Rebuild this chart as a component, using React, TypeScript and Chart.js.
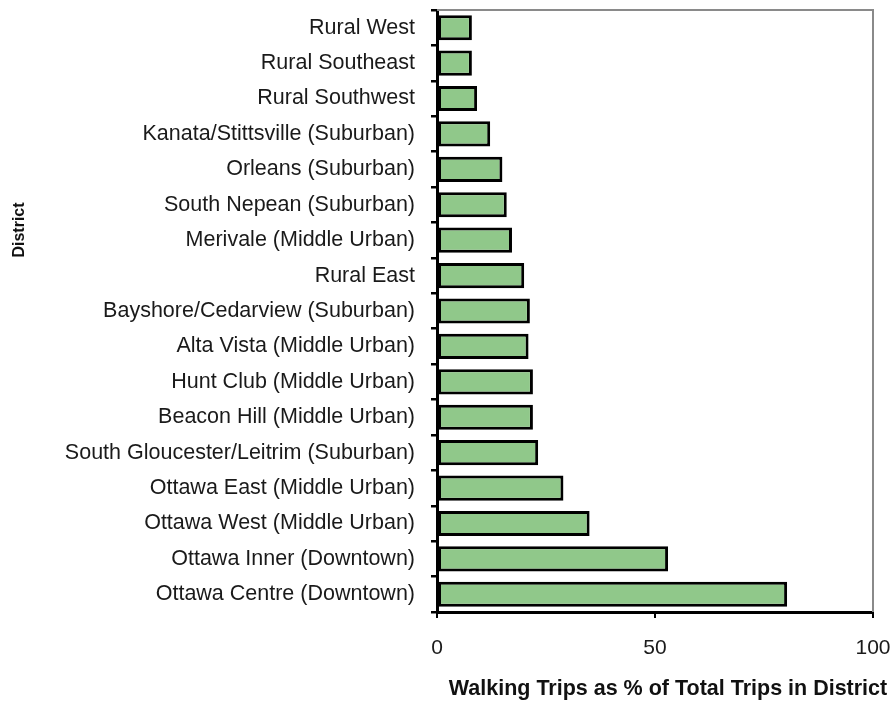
import React, { useEffect, useRef } from "react";
import { Chart, registerables } from "chart.js";

Chart.register(...registerables);

const districts = [
  "Rural West",
  "Rural Southeast",
  "Rural Southwest",
  "Kanata/Stittsville (Suburban)",
  "Orleans (Suburban)",
  "South Nepean (Suburban)",
  "Merivale (Middle Urban)",
  "Rural East",
  "Bayshore/Cedarview (Suburban)",
  "Alta Vista (Middle Urban)",
  "Hunt Club (Middle Urban)",
  "Beacon Hill (Middle Urban)",
  "South Gloucester/Leitrim (Suburban)",
  "Ottawa East (Middle Urban)",
  "Ottawa West (Middle Urban)",
  "Ottawa Inner (Downtown)",
  "Ottawa Centre (Downtown)",
];

const walkingShare = [8, 8, 9.2, 12.2, 15, 16, 17.2, 20, 21.3, 21, 22, 22, 23.2, 29, 35, 53, 80.3];

const xTitle = "Walking Trips as % of Total Trips in District";
const yTitle = "District";

const frameAndTitles = {
  id: "frameAndTitles",
  afterDraw(chart: any) {
    const { ctx, chartArea } = chart;
    ctx.save();
    ctx.strokeStyle = "#8a8a8a";
    ctx.lineWidth = 2;
    ctx.beginPath();
    ctx.moveTo(chartArea.left, chartArea.top);
    ctx.lineTo(chartArea.right, chartArea.top);
    ctx.lineTo(chartArea.right, chartArea.bottom);
    ctx.stroke();

    ctx.fillStyle = "#111";
    ctx.textAlign = "center";
    ctx.textBaseline = "middle";
    ctx.font = "bold 21.5px 'Liberation Sans', Arial";
    ctx.fillText(xTitle, 668, 689);

    ctx.translate(20, 230);
    ctx.rotate(-Math.PI / 2);
    ctx.font = "bold 16px 'Liberation Sans', Arial";
    ctx.fillText(yTitle, 0, 0);
    ctx.restore();
  },
};

export default function App() {
  const ref = useRef<HTMLCanvasElement>(null);
  useEffect(() => {
    if (!ref.current) return;
    const chart = new Chart(ref.current, {
      type: "bar",
      data: {
        labels: districts,
        datasets: [
          {
            data: walkingShare,
            backgroundColor: "rgb(144,200,138)",
            borderColor: "#000",
            borderWidth: 3,
            borderSkipped: false,
            barPercentage: 0.71,
            categoryPercentage: 1,
          },
        ],
      },
      options: {
        indexAxis: "y",
        animation: false,
        responsive: false,
        maintainAspectRatio: false,
        layout: { padding: { top: 10, right: 19, left: 0, bottom: 0 } },
        plugins: {
          legend: { display: false },
          tooltip: { enabled: false },
        },
        scales: {
          x: {
            min: 0,
            max: 100,
            ticks: {
              stepSize: 50,
              color: "#1a1a1a",
              font: { family: "Liberation Sans, Arial", size: 21 },
              padding: 18,
            },
            grid: {
              drawOnChartArea: false,
              tickLength: 6,
              color: "#000",
              lineWidth: 2,
            },
            border: { display: true, color: "#000", width: 3 },
            afterFit(scale: any) {
              scale.height = 91;
              scale.paddingLeft = 0;
              scale.paddingRight = 0;
            },
          },
          y: {
            ticks: {
              color: "#1a1a1a",
              font: { family: "Liberation Sans, Arial", size: 21.5 },
              padding: 16,
              autoSkip: false,
            },
            grid: {
              drawOnChartArea: false,
              offset: true,
              tickLength: 6,
              color: "#000",
              lineWidth: 2.5,
            },
            border: { display: true, color: "#000", width: 3 },
            afterFit(scale: any) {
              scale.width = 437;
              scale.paddingTop = 0;
              scale.paddingBottom = 0;
            },
          },
        },
      },
      plugins: [frameAndTitles],
    });
    return () => chart.destroy();
  }, []);
  return (
    <div style={{ position: "fixed", left: 0, top: 0, width: 892, height: 703, background: "#fff" }}>
      <canvas ref={ref} width={892} height={703} style={{ width: 892, height: 703 }} />
    </div>
  );
}
